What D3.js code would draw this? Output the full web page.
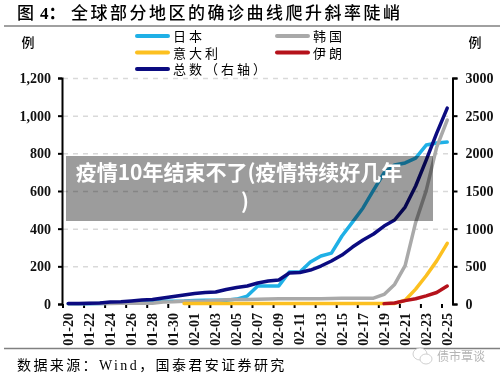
<!DOCTYPE html>
<html lang="zh">
<head>
    <meta charset="UTF-8">
    <title>全球部分地区的确诊曲线</title>
    <script src="https://d3js.org/d3.v7.min.js"></script>
    <style>
        html, body { margin: 0; padding: 0; background: #fff; }
        svg { display: block; filter: blur(0.3px); }
    </style>
</head>
<body>
<script>
    const dates = ["01-20","01-21","01-22","01-23","01-24","01-25","01-26","01-27","01-28","01-29","01-30","01-31",
                   "02-01","02-02","02-03","02-04","02-05","02-06","02-07","02-08","02-09","02-10","02-11","02-12",
                   "02-13","02-14","02-15","02-16","02-17","02-18","02-19","02-20","02-21","02-22","02-23","02-24","02-25"];

    const japan = [1,1,1,2,4,4,7,7,11,15,15,16,19,20,20,20,26,42,96,96,96,170,170,223,255,270,361,435,510,605,696,738,749,775,844,855,860];
    const korea = [1,1,2,2,3,4,4,4,4,11,12,15,15,16,19,23,24,24,25,27,28,28,28,28,28,29,30,31,31,31,51,104,204,433,602,833,977];
    const italy = [null,null,null,null,null,null,null,null,null,null,null,2,2,2,2,2,2,3,3,3,3,3,3,3,3,3,3,3,3,3,3,3,20,79,150,229,322];
    const iran  = [null,null,null,null,null,null,null,null,null,null,null,null,null,null,null,null,null,null,null,null,null,null,null,null,null,null,null,null,null,null,2,5,18,28,43,61,95];
    const total = [7,7,9,13,27,29,40,53,60,80,100,119,139,153,159,192,219,239,279,305,318,411,418,451,504,571,650,756,849,929,1035,1115,1287,1566,1911,2269,2601];

    const leftTicks  = [0,200,400,600,800,1000,1200];
    const rightTicks = [0,500,1000,1500,2000,2500,3000];

    const width  = 500;
    const height = 378;
    const plotLeft = 63, plotRight = 452.5, plotTop = 78, plotBottom = 304;

    const serif = "'Liberation Serif', serif";
    const cjk   = "'Liberation Serif', 'Noto Sans CJK SC', serif";

    const svg = d3.select("body").append("svg")
        .attr("width", width)
        .attr("height", height);

    const x = d3.scaleBand().domain(dates).range([plotLeft, plotRight]);
    const yLeft  = d3.scaleLinear().domain([0, 1200]).range([plotBottom, plotTop]);
    const yRight = d3.scaleLinear().domain([0, 3000]).range([plotBottom, plotTop]);

    // header and footer rules
    svg.selectAll(".rule")
        .data([26, 348.5])
        .enter().append("line")
        .attr("x1", 4).attr("x2", 500)
        .attr("y1", d => d).attr("y2", d => d)
        .style("stroke", "#808080")
        .style("stroke-width", 1.5);

    svg.append("text").text("图").attr("x", 17).attr("y", 19)
        .style("font", "500 17px " + cjk);
    svg.append("text").text("4：").attr("x", 40).attr("y", 19)
        .style("font", "bold 17px " + cjk);
    svg.append("text").text("全球部分地区的确诊曲线爬升斜率陡峭")
        .attr("x", 71).attr("y", 19)
        .style("font", "500 17px " + cjk)
        .style("letter-spacing", "2.5px");

    // gridlines
    const grid = svg.append("g")
        .attr("transform", "translate(" + plotLeft + ",0)")
        .call(d3.axisLeft(yLeft).tickValues(leftTicks.slice(1)).tickSize(-(plotRight - plotLeft)).tickFormat(""));
    grid.select(".domain").remove();
    grid.selectAll("line")
        .style("stroke", "#d9d9d9")
        .style("stroke-width", 1.5)
        .style("stroke-dasharray", "5,5");

    // axes
    const axisL = svg.append("g")
        .attr("transform", "translate(" + (plotLeft - 1) + ",0)")
        .call(d3.axisLeft(yLeft).tickValues(leftTicks).tickFormat(d3.format(",")).tickSizeOuter(0).tickSize(4).tickPadding(7));
    const axisR = svg.append("g")
        .attr("transform", "translate(" + plotRight + ",0)")
        .call(d3.axisRight(yRight).tickValues(rightTicks).tickFormat(d => d).tickSizeOuter(0).tickSize(5).tickPadding(8));
    const axisB = svg.append("g")
        .attr("transform", "translate(0," + plotBottom + ")")
        .call(d3.axisBottom(x).tickValues(dates.filter((d, i) => i % 2 == 0)).tickSizeOuter(0).tickSize(4));
    axisB.select(".domain").remove();
    axisB.selectAll("line")
        .attr("x1", -x.bandwidth() / 2)
        .attr("x2", -x.bandwidth() / 2);
    axisB.selectAll("text")
        .attr("transform", "rotate(-90)")
        .attr("x", -9).attr("y", 0).attr("dy", "0.33em")
        .style("text-anchor", "end");

    [axisL, axisR, axisB].forEach(a => {
        a.selectAll("line").style("stroke", "#000").style("stroke-width", 2);
        a.select(".domain").style("stroke", "#000").style("stroke-width", 2);
        a.selectAll("text").style("font", "bold 14px " + serif).style("fill", "#111");
    });

    svg.selectAll(".unit")
        .data([28, 475])
        .enter().append("text")
        .text("例")
        .attr("x", d => d).attr("y", 47)
        .style("text-anchor", "middle")
        .style("font", "500 13px " + cjk);

    // series
    const series = [
        {name: "日本", values: japan, color: "#1fb0e6", scale: yLeft},
        {name: "韩国", values: korea, color: "#a9a9a9", scale: yLeft},
        {name: "意大利", values: italy, color: "#fcc020", scale: yLeft},
        {name: "伊朗", values: iran, color: "#b5121b", scale: yLeft},
        {name: "总数（右轴）", values: total, color: "#0b0b80", scale: yRight}
    ];

    svg.selectAll(".series")
        .data(series)
        .enter().append("path")
        .attr("class", "series")
        .attr("d", s => d3.line()
            .defined(d => d !== null)
            .x((d, i) => x(dates[i]) + x.bandwidth() / 2)
            .y(d => s.scale(d))(s.values))
        .style("fill", "none")
        .style("stroke", s => s.color)
        .style("stroke-width", 3.5)
        .style("stroke-linejoin", "round")
        .style("stroke-linecap", "round");

    // legend
    const legendX = [137, 277, 137, 277, 137];
    const legendY = [36, 36, 52.5, 52.5, 69];
    const legend = svg.selectAll(".legend")
        .data(series)
        .enter().append("g")
        .attr("transform", (d, i) => "translate(" + legendX[i] + "," + legendY[i] + ")");
    legend.append("line")
        .attr("x2", 31)
        .style("stroke", d => d.color)
        .style("stroke-width", 4)
        .style("stroke-linecap", "round");
    legend.append("text")
        .text(d => d.name)
        .attr("x", 36).attr("y", 5)
        .style("font", "13px " + cjk)
        .style("letter-spacing", "3px");

    // footer
    svg.append("text").text("数据来源：Wind，国泰君安证券研究")
        .attr("x", 17).attr("y", 370)
        .style("font", "14px " + cjk)
        .style("letter-spacing", "2.4px");

    // watermark
    const mark = svg.append("g")
        .style("fill", "#fff").style("stroke", "#c4c4c4").style("stroke-width", 0.8);
    mark.append("ellipse").attr("cx", 420).attr("cy", 354).attr("rx", 7).attr("ry", 6);
    mark.append("ellipse").attr("cx", 426).attr("cy", 359).attr("rx", 6).attr("ry", 5);
    svg.append("text").text("债市覃谈")
        .attr("x", 437).attr("y", 361)
        .style("font", "12px 'Noto Sans CJK SC'")
        .style("fill", "#b5b5b5");

    // caption box on top of the chart
    svg.append("rect")
        .attr("x", 66).attr("y", 156)
        .attr("width", 367).attr("height", 65)
        .style("fill", "#000")
        .style("fill-opacity", 0.39);
    svg.append("text").text("疫情10年结束不了(疫情持续好几年")
        .attr("x", 239).attr("y", 180)
        .style("text-anchor", "middle")
        .style("font", "bold 21px 'Noto Sans CJK SC'")
        .style("fill", "#fff");
    svg.append("text").text(")")
        .attr("x", 245).attr("y", 209)
        .style("text-anchor", "middle")
        .style("font", "bold 21px 'Noto Sans CJK SC'")
        .style("fill", "#fff");
</script>
</body>
</html>
